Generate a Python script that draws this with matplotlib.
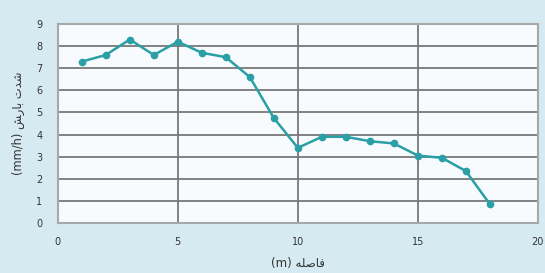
import matplotlib
matplotlib.use("Agg")
import matplotlib.pyplot as plt

distance = [1, 2, 3, 4, 5, 6, 7, 8, 9, 10, 11, 12, 13, 14, 15, 16, 17, 18]
intensity = [7.3, 7.6, 8.3, 7.6, 8.2, 7.7, 7.5, 6.6, 4.75, 3.4, 3.9, 3.9, 3.7, 3.6, 3.05, 2.95, 2.35, 0.85]
x_ticks = [0, 5, 10, 15, 20]
y_ticks = [0, 1, 2, 3, 4, 5, 6, 7, 8, 9]
x_label = "(m) \ufeea\ufee0\ufebb\ufe8e\ufed3"           # فاصله (m)
y_label = "(mm/h) \ufeb6\ufead\ufe8e\ufe91 \ufe95\ufeaa\ufeb7"  # شدت بارش (mm/h)

bg = "#d5ebf1"
fig = plt.figure(figsize=(5.45, 2.73), dpi=100, facecolor=bg)
ax = fig.add_axes([0.106, 0.183, 0.881, 0.729])
ax.set_facecolor("#f8fbfd")

ax.plot(distance, intensity, color="#2a9fa6", lw=1.8, marker="o", ms=4.5,
        markerfacecolor="#2a9fa6", markeredgecolor="#2a9fa6", zorder=3)

ax.set_xlim(0, 20)
ax.set_ylim(0, 9)
ax.set_xticks(x_ticks)
ax.set_yticks(y_ticks)
ax.grid(True, color="#787878", lw=1.3)
ax.set_axisbelow(True)
for s in ax.spines.values():
    s.set_color("#a8a8a8")
    s.set_linewidth(1.5)
ax.tick_params(axis="y", length=0, labelsize=7, colors="#333333", pad=11)
ax.tick_params(axis="x", length=0, labelsize=7, colors="#333333", pad=10)

ax.set_xlabel(x_label, fontsize=8.5, color="#333333", family="DejaVu Sans", labelpad=7)
ax.set_ylabel(y_label, fontsize=8.3, color="#333333", family="DejaVu Sans", labelpad=8)

fig.savefig("out.png", dpi=100, facecolor=bg)
